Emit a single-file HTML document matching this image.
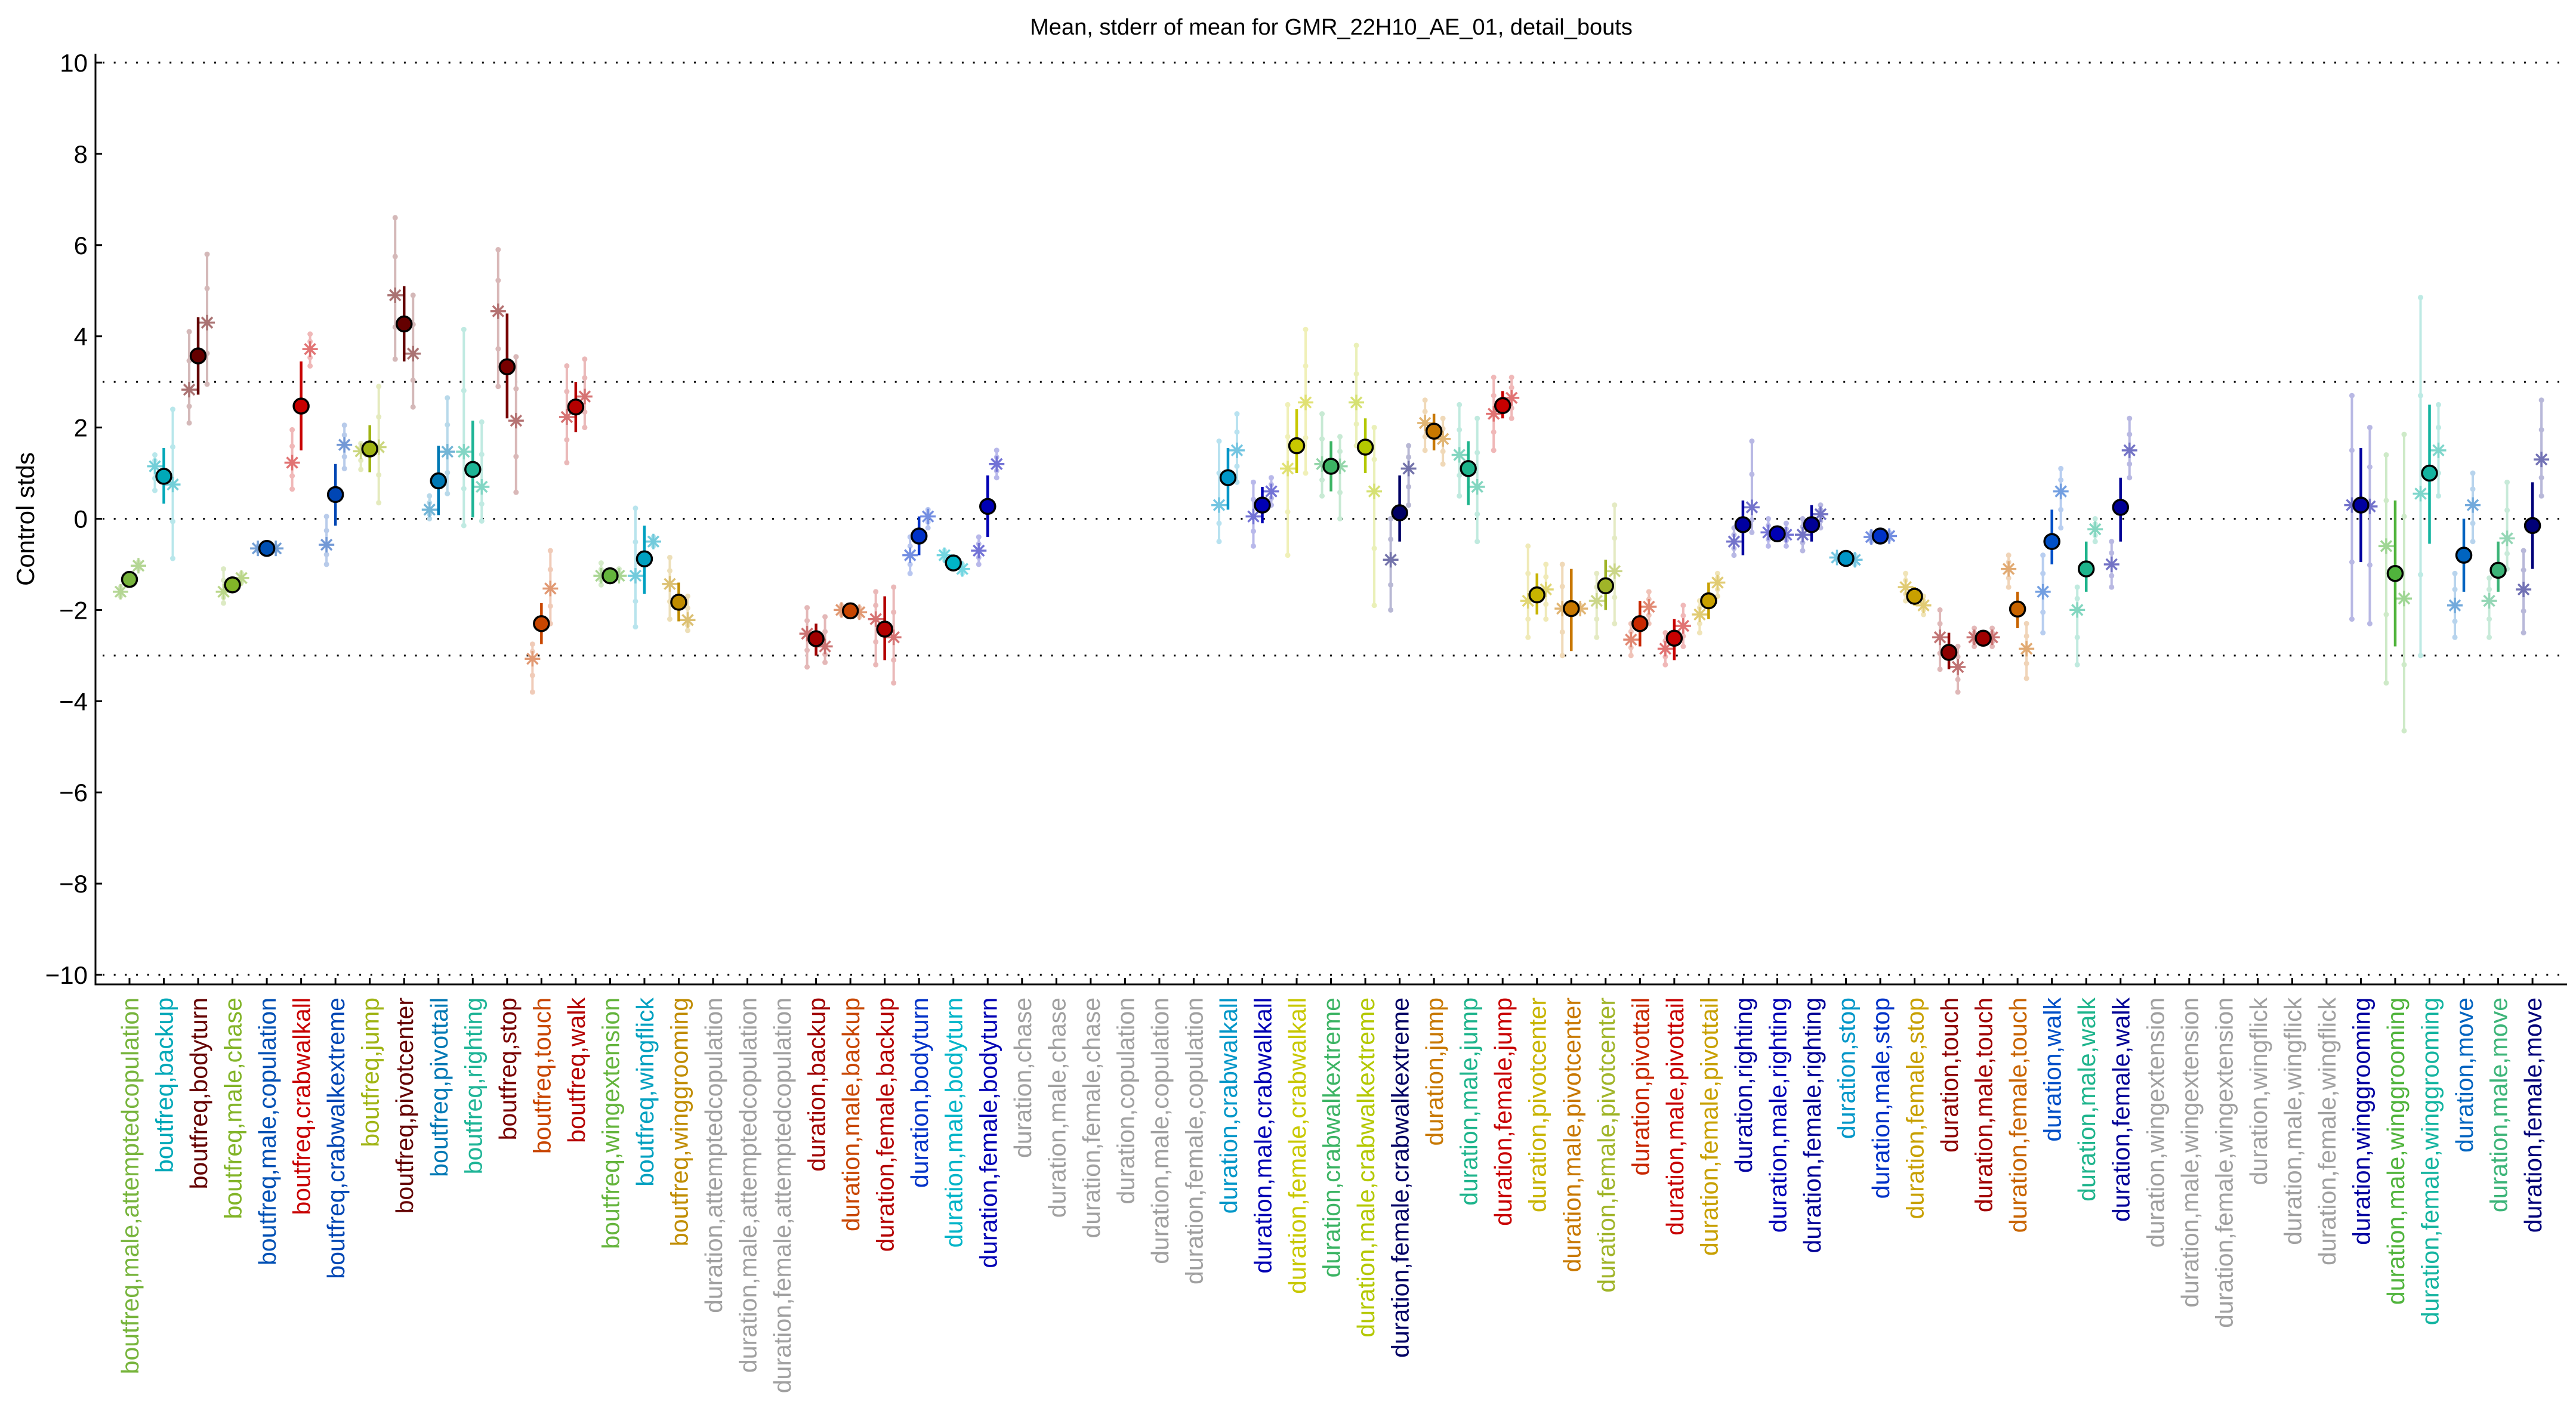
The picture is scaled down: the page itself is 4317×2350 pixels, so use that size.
<!DOCTYPE html>
<html><head><meta charset="utf-8"><style>
html,body{margin:0;padding:0;background:#fff;}
svg{display:block;font-family:"Liberation Sans",sans-serif;}
</style></head><body>
<svg id="s" width="4317" height="2350" xmlns="http://www.w3.org/2000/svg"></svg>
<script>
var L=160,R=4302,Y0=869.5,K=76.45;
function Y(v){return Y0-K*v;}
function X(i){return 217+57.53*(i-1);}
var G='#a0a0a0';
var D=[
["boutfreq,male,attemptedcopulation","#77b43c",-1.33,-1.45,-1.2,-1.6,-1.7,-1.5,-1.03,-1.1,-0.95],
["boutfreq,backup","#00a8b8",0.93,0.33,1.55,1.15,0.62,1.4,0.75,-0.87,2.4],
["boutfreq,bodyturn","#640000",3.57,2.72,4.42,2.83,2.1,4.1,4.3,2.95,5.8],
["boutfreq,male,chase","#82b428",-1.45,-1.55,-1.35,-1.6,-1.85,-1.1,-1.3,-1.4,-1.2],
["boutfreq,male,copulation","#0050b4",-0.65,-0.7,-0.6,-0.65,-0.7,-0.6,-0.65,-0.7,-0.6],
["boutfreq,crabwalkall","#c80000",2.47,1.5,3.45,1.23,0.65,1.95,3.72,3.35,4.05],
["boutfreq,crabwalkextreme","#0046b4",0.53,-0.15,1.2,-0.57,-1.0,0.05,1.62,1.1,2.05],
["boutfreq,jump","#a0b414",1.53,1.02,2.05,1.48,1.08,1.65,1.57,0.35,2.9],
["boutfreq,pivotcenter","#640000",4.27,3.45,5.1,4.9,3.5,6.6,3.62,2.45,4.9],
["boutfreq,pivottail","#0078b4",0.83,0.08,1.6,0.2,0,0.5,1.47,0.55,2.65],
["boutfreq,righting","#1eb496",1.08,0.03,2.15,1.47,-0.15,4.15,0.7,-0.05,2.12],
["boutfreq,stop","#780000",3.33,2.2,4.5,4.55,2.9,5.9,2.15,0.58,3.55],
["boutfreq,touch","#c84600",-2.3,-2.75,-1.85,-3.07,-3.8,-2.75,-1.53,-2.3,-0.7],
["boutfreq,walk","#b40000",2.45,1.9,3.0,2.23,1.23,3.35,2.68,2.0,3.5],
["boutfreq,wingextension","#64b43c",-1.25,-1.3,-1.2,-1.25,-1.45,-0.97,-1.25,-1.3,-1.1],
["boutfreq,wingflick","#00a0c0",-0.88,-1.65,-0.15,-1.25,-2.37,0.23,-0.5,-0.6,-0.4],
["boutfreq,winggrooming","#c08c00",-1.83,-2.25,-1.4,-1.43,-2.2,-0.85,-2.22,-2.45,-1.7],
["duration,attemptedcopulation",G],
["duration,male,attemptedcopulation",G],
["duration,female,attemptedcopulation",G],
["duration,backup","#a00000",-2.63,-3.0,-2.3,-2.52,-3.25,-1.95,-2.8,-3.15,-2.15],
["duration,male,backup","#c84600",-2.02,-2.15,-1.9,-2.0,-2.1,-1.9,-2.05,-2.15,-1.95],
["duration,female,backup","#b40000",-2.42,-3.1,-1.7,-2.2,-3.2,-1.6,-2.6,-3.6,-1.5],
["duration,bodyturn","#0032c8",-0.38,-0.8,0.05,-0.8,-1.2,-0.4,0.05,-0.2,0.2],
["duration,male,bodyturn","#00b4c8",-0.97,-1.05,-0.9,-0.8,-0.9,-0.7,-1.1,-1.2,-1.0],
["duration,female,bodyturn","#0000b4",0.27,-0.4,0.95,-0.7,-1.0,-0.4,1.2,0.9,1.5],
["duration,chase",G],["duration,male,chase",G],["duration,female,chase",G],
["duration,copulation",G],["duration,male,copulation",G],["duration,female,copulation",G],
["duration,crabwalkall","#0096c8",0.9,0.2,1.55,0.3,-0.5,1.7,1.5,0.8,2.3],
["duration,male,crabwalkall","#0000b4",0.3,-0.1,0.7,0.05,-0.6,0.8,0.6,0.3,0.9],
["duration,female,crabwalkall","#c8c800",1.6,1.0,2.4,1.1,-0.8,2.5,2.55,1.0,4.15],
["duration,crabwalkextreme","#3cb464",1.15,0.6,1.7,1.2,0.5,2.3,1.15,0,1.8],
["duration,male,crabwalkextreme","#b4c800",1.57,1.0,2.2,2.55,1.6,3.8,0.6,-1.9,2.0],
["duration,female,crabwalkextreme","#000064",0.13,-0.5,0.95,-0.9,-2,0,1.1,0.3,1.6],
["duration,jump","#c87800",1.92,1.5,2.3,2.1,1.5,2.6,1.75,1.2,2.2],
["duration,male,jump","#1eb48c",1.1,0.3,1.7,1.4,0.5,2.5,0.7,-0.5,2.2],
["duration,female,jump","#c80000",2.48,2.2,2.8,2.3,1.5,3.1,2.65,2.2,3.1],
["duration,pivotcenter","#c8b400",-1.67,-2.1,-1.2,-1.8,-2.6,-0.6,-1.55,-2.2,-1.0],
["duration,male,pivotcenter","#c87800",-1.97,-2.9,-1.1,-1.97,-3.0,-1.0,-1.97,-2.0,-1.9],
["duration,female,pivotcenter","#a0b428",-1.47,-2.0,-0.9,-1.8,-2.6,-1.2,-1.15,-2.3,0.3],
["duration,pivottail","#c82800",-2.3,-2.8,-1.8,-2.65,-3.0,-2.3,-1.93,-2.3,-1.6],
["duration,male,pivottail","#c80000",-2.62,-3.1,-2.2,-2.85,-3.2,-2.5,-2.35,-2.8,-1.9],
["duration,female,pivottail","#c8a000",-1.8,-2.2,-1.4,-2.1,-2.5,-1.8,-1.4,-1.7,-1.2],
["duration,righting","#0000a0",-0.13,-0.8,0.4,-0.5,-0.8,-0.2,0.25,-0.3,1.7],
["duration,male,righting","#0000b4",-0.33,-0.5,-0.2,-0.3,-0.6,0,-0.35,-0.6,-0.1],
["duration,female,righting","#000096",-0.13,-0.5,0.3,-0.35,-0.7,0,0.1,-0.2,0.3],
["duration,stop","#0096c8",-0.87,-0.95,-0.8,-0.85,-0.9,-0.8,-0.9,-1.0,-0.8],
["duration,male,stop","#0032c8",-0.38,-0.45,-0.3,-0.4,-0.5,-0.3,-0.38,-0.45,-0.3],
["duration,female,stop","#c8a000",-1.7,-1.9,-1.5,-1.5,-1.8,-1.2,-1.9,-2.1,-1.7],
["duration,touch","#8c0000",-2.93,-3.3,-2.5,-2.6,-3.3,-2.0,-3.25,-3.8,-2.8],
["duration,male,touch","#a00000",-2.62,-2.8,-2.45,-2.6,-2.8,-2.4,-2.6,-2.8,-2.4],
["duration,female,touch","#c86400",-1.98,-2.4,-1.6,-1.1,-1.5,-0.8,-2.85,-3.5,-2.3],
["duration,walk","#0050c8",-0.5,-1.0,0.2,-1.6,-2.5,-0.8,0.6,-0.2,1.1],
["duration,male,walk","#1eb48c",-1.1,-1.6,-0.5,-2.0,-3.2,-1.5,-0.23,-0.5,0],
["duration,female,walk","#000096",0.25,-0.5,0.9,-1.0,-1.5,-0.5,1.5,0.9,2.2],
["duration,wingextension",G],["duration,male,wingextension",G],["duration,female,wingextension",G],
["duration,wingflick",G],["duration,male,wingflick",G],["duration,female,wingflick",G],
["duration,winggrooming","#0000a0",0.3,-0.95,1.55,0.3,-2.2,2.7,0.27,-2.3,2.0],
["duration,male,winggrooming","#50b43c",-1.2,-2.8,0.4,-0.6,-3.6,1.4,-1.75,-4.65,1.85],
["duration,female,winggrooming","#14b4a0",1.0,-0.55,2.5,0.55,-3.0,4.85,1.5,0.5,2.5],
["duration,move","#0064c0",-0.8,-1.6,0,-1.9,-2.6,-1.2,0.3,-0.5,1.0],
["duration,male,move","#3cb478",-1.13,-1.6,-0.5,-1.8,-2.6,-1.3,-0.43,-1.1,0.8],
["duration,female,move","#000078",-0.15,-1.1,0.8,-1.55,-2.5,-0.7,1.3,0.5,2.6]
];
function mix(c,t){var r=parseInt(c.substr(1,2),16),g=parseInt(c.substr(3,2),16),b=parseInt(c.substr(5,2),16);
r=Math.round(r+(255-r)*t);g=Math.round(g+(255-g)*t);b=Math.round(b+(255-b)*t);return 'rgb('+r+','+g+','+b+')';}
var h='';
[10,3,0,-3,-10].forEach(function(v){h+='<line x1="'+(L+12)+'" x2="'+R+'" y1="'+Y(v)+'" y2="'+Y(v)+'" stroke="#000" stroke-width="3" stroke-dasharray="3 15.7"/>';});
h+='<line x1="'+L+'" x2="'+L+'" y1="90" y2="1651.5" stroke="#000" stroke-width="3"/>';
h+='<line x1="'+(L-1.5)+'" x2="'+R+'" y1="1650" y2="1650" stroke="#000" stroke-width="3"/>';
for(var v=-10;v<=10;v+=2){h+='<line x1="'+L+'" x2="'+(L+11)+'" y1="'+Y(v)+'" y2="'+Y(v)+'" stroke="#000" stroke-width="3"/>';
h+='<text x="147" y="'+(Y(v)+15)+'" font-size="42" text-anchor="end">'+(v<0?'\u2212'+(-v):v)+'</text>';}
h+='<text transform="translate(57,870) rotate(-90)" font-size="42" text-anchor="middle">Control stds</text>';
h+='<text x="2231" y="58" font-size="38" text-anchor="middle">Mean, stderr of mean for GMR_22H10_AE_01, detail_bouts</text>';
function star(x,y,c){var s=13,d=9;return '<g stroke="'+c+'" stroke-width="3.5"><line x1="'+(x-s)+'" x2="'+(x+s)+'" y1="'+y+'" y2="'+y+'"/><line x1="'+x+'" x2="'+x+'" y1="'+(y-s)+'" y2="'+(y+s)+'"/><line x1="'+(x-d)+'" x2="'+(x+d)+'" y1="'+(y-d)+'" y2="'+(y+d)+'"/><line x1="'+(x-d)+'" x2="'+(x+d)+'" y1="'+(y+d)+'" y2="'+(y-d)+'"/></g>';}
function side(x,m,lo,hi,c){var lc=mix(c,0.72),sc=mix(c,0.45);var s='<line x1="'+x+'" x2="'+x+'" y1="'+Y(lo)+'" y2="'+Y(hi)+'" stroke="'+lc+'" stroke-width="4"/>';
[lo,hi,(lo+m)/2,(hi+m)/2].forEach(function(p){s+='<circle cx="'+x+'" cy="'+Y(p)+'" r="4.5" fill="'+lc+'"/>';});
return s+star(x,Y(m),sc);}
D.forEach(function(d,k){var i=k+1,x=X(i),c=d[1];
h+='<line x1="'+x+'" x2="'+x+'" y1="1650" y2="1639" stroke="#000" stroke-width="3"/>';
h+='<text transform="translate('+(x+15)+',1672) rotate(-90)" font-size="41" text-anchor="end" fill="'+c+'">'+d[0]+'</text>';
if(d.length>2){
h+=side(x-15,d[5],d[6],d[7],c);h+=side(x+15,d[8],d[9],d[10],c);
h+='<line x1="'+x+'" x2="'+x+'" y1="'+Y(d[3])+'" y2="'+Y(d[4])+'" stroke="'+c+'" stroke-width="4.5"/>';
h+='<circle cx="'+x+'" cy="'+Y(d[2])+'" r="12.5" fill="'+c+'" stroke="#000" stroke-width="3.5"/>';}
});
document.getElementById('s').innerHTML=h;
</script>
</body></html>
